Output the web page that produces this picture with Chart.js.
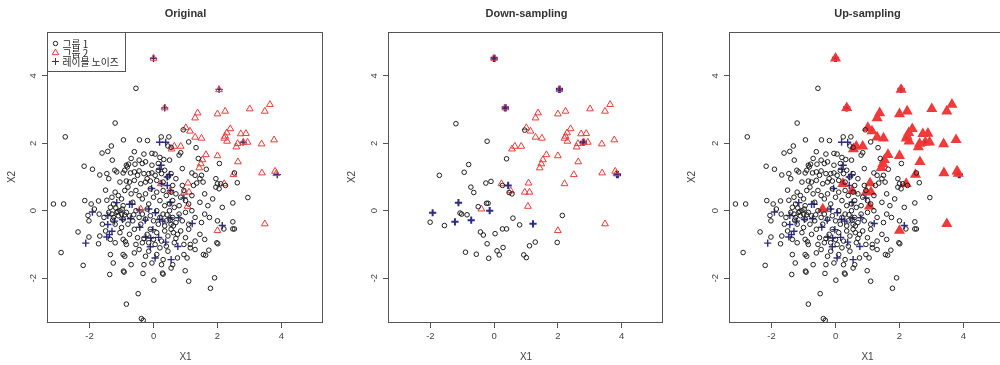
<!DOCTYPE html>
<html>
<head>
<meta charset="utf-8">
<script src="https://cdn.jsdelivr.net/npm/chart.js@4.4.0/dist/chart.umd.min.js"></script>
<style>
html, body { margin: 0; padding: 0; background: #fff; overflow: hidden; width: 1000px; height: 365px; }
.p { position: absolute; top: 0; width: 340px; height: 365px; }
</style>
</head>
<body>
<div class="p" style="left:0"><canvas id="c1" width="340" height="365"></canvas></div>
<div class="p" style="left:340px"><canvas id="c2" width="340" height="365"></canvas></div>
<div class="p" style="left:680px"><canvas id="c3" width="340" height="365"></canvas></div>
<script>
var titles = ["Original", "Down-sampling", "Up-sampling"]
var legendLabels = ["그룹 1", "그룹 2", "레이블 노이즈"]
var xTicks = [-2, 0, 2, 4]
var yTicks = [-2, 0, 2, 4]

// 그룹 1 (original / up-sampling)
var group1 = [
  [-0.55,3.63],[-1.2,2.6],[-2.76,2.19],[-3.13,0.2],[-2.81,0.2],
  [-0.94,2.1],[-0.44,2.1],[-0.19,2.08],[0.24,2.19],[0.48,2.19],[0.93,2.4],[1.1,2.04],[-1.32,1.92],[0.45,1.92],[0.55,1.88],
  [-1.61,1.71],[-1.43,1.76],[-0.6,1.75],[-0.7,1.55],[-0.3,1.68],[-0.05,1.7],[0.05,1.68],[-0.25,1.45],[-0.45,1.5],[-0.35,1.4],
  [-0.78,1.38],[-0.82,1.3],[0.85,1.72],[0.8,1.65],[0.5,1.5],[0.2,1.58],[0.32,1.52],[1.33,1.87],[1.4,1.55],[2.06,1.4],
  [-1.29,1.5],[-2.17,1.32],[-0.58,1.38],[0.15,1.4],[-0.05,1.35],
  [-1.91,1.23],[-1.46,1.1],[-1.68,1.06],[-1.21,1.2],[-1.15,1.15],[-0.95,1.12],[-0.9,1.2],[-0.72,1.12],[-0.6,1.15],[-0.45,1.18],
  [-0.3,1.1],[-0.15,1.1],[-0.05,1.12],[0.25,1.1],[0.35,1.2],[0.45,1.0],[0.55,1.1],[0.9,1.25],[1.2,1.12],[1.3,1.05],
  [1.5,1.05],[1.65,1.23],[1.45,0.95],[1.55,0.85],[1.95,0.95],[2.0,0.8],[2.1,0.8],[2.53,1.12],[2.62,0.83],[-1.4,0.95],
  [-1.05,0.85],[-0.85,0.88],[-0.75,0.85],[-0.6,0.9],[-0.4,0.8],[-0.25,0.85],[-0.1,0.88],[0.1,0.9],[0.3,0.85],[0.6,0.75],
  [0.9,0.75],[1.25,0.75],[1.35,0.82],[-0.85,1.35],[-0.5,1.05],[0.05,1.05],[-0.2,0.95],[0.7,0.95],[0.15,1.2],
  [-1.5,0.61],[-1.72,0.29],[-1.46,0.31],[-1.2,0.55],[-1.1,0.45],[-1.3,0.4],[-1.0,0.35],[-0.9,0.6],[-0.8,0.7],[-0.7,0.5],
  [-0.55,0.6],[-0.45,0.45],[-0.35,0.35],[-0.25,0.5],[-0.1,0.65],[0.0,0.4],[0.1,0.55],[0.2,0.3],[0.3,0.6],[0.4,0.45],
  [0.5,0.2],[0.6,0.3],[0.7,0.5],[0.85,0.4],[1.0,0.3],[1.1,0.2],[1.2,0.45],[1.45,0.25],[1.6,0.5],[1.85,0.35],
  [1.95,0.7],[2.05,0.65],[2.25,0.75],[2.48,0.23],[2.95,0.39],[-2.15,0.3],[-1.95,0.2],[-0.65,0.25],[-0.15,0.2],[0.35,0.15],
  [0.8,0.15],[1.7,0.15],[-1.25,0.2],[-0.95,0.15],[0.55,0.55],[0.95,0.6],
  [-2.05,-0.14],[-2.02,-0.3],[-1.85,0.05],[-1.7,-0.1],[-1.55,-0.2],[-1.4,-0.05],[-1.3,-0.1],[-1.25,-0.2],[-1.15,-0.05],[-1.1,-0.15],
  [-1.05,0.0],[-1.0,-0.1],[-0.95,-0.25],[-0.85,-0.05],[-0.75,-0.15],[-0.65,-0.3],[-0.55,0.0],[-0.45,-0.2],[-0.35,-0.1],[-0.2,0.05],
  [-0.1,-0.15],[0.0,-0.3],[0.1,0.0],[0.2,-0.2],[0.3,-0.1],[0.4,-0.3],[0.5,0.0],[0.6,-0.2],[0.7,-0.35],[0.8,-0.1],
  [0.9,-0.3],[1.0,-0.05],[1.1,-0.4],[1.3,-0.2],[1.5,-0.35],[1.6,-0.1],[1.75,-0.2],[2.0,-0.3],[2.15,0.1],[2.48,-0.33],
  [-1.6,-0.4],[-1.2,-0.4],[-0.8,-0.4],[-0.4,-0.4],[0.15,-0.4],[0.55,-0.4],[-1.35,0.1],[-0.25,-0.25],[0.65,0.1],[1.2,0.0],
  [-1.12,-0.02],[-1.18,0.08],[-0.98,0.05],[-0.9,-0.12],[-1.28,-0.28],[-0.62,-0.12],[0.42,-0.12],[0.52,-0.28],[0.62,-0.45],[0.35,-0.45],
  [-2.36,-0.63],[-2.02,-0.78],[-1.72,-0.98],[-1.68,-0.75],[-1.5,-0.6],[-1.35,-0.85],[-1.2,-0.95],[-1.05,-0.65],[-0.95,-0.85],[-0.85,-1.0],
  [-0.75,-0.7],[-0.6,-0.55],[-0.5,-0.8],[-0.35,-0.95],[-0.2,-0.7],[-0.1,-0.55],[0.0,-0.85],[0.1,-0.65],[0.25,-0.9],[0.35,-0.6],
  [0.45,-0.75],[0.55,-0.55],[0.65,-0.95],[0.75,-0.7],[0.85,-0.6],[1.0,-0.8],[1.1,-0.55],[1.3,-0.9],[1.45,-0.7],[1.6,-0.85],
  [2.2,-0.54],[2.48,-0.54],[2.53,-0.54],[1.98,-0.95],[2.01,-0.98],[1.15,-1.0],[-0.55,-1.0],[0.95,-1.0],[0.4,-1.05],[-1.0,-0.5],
  [-0.88,-0.92],[-0.3,-0.82],[0.05,-1.0],[0.62,-0.65],[0.7,-0.82],[-0.15,-0.95],
  [-2.89,-1.24],[-2.2,-1.62],[-1.35,-1.3],[-1.26,-1.55],[-0.95,-1.3],[-0.9,-1.35],[-0.6,-1.25],[-0.45,-1.15],[-0.3,-1.6],[-0.15,-1.2],
  [-0.05,-1.55],[0.1,-1.3],[0.3,-1.45],[0.45,-1.2],[0.6,-1.6],[0.75,-1.4],[0.95,-1.3],[1.05,-1.4],[1.15,-1.1],[1.3,-1.15],
  [1.56,-1.3],[1.63,-1.32],[1.73,-1.17],[-0.7,-1.6],[0.2,-1.1],[-0.25,-1.35],[0.55,-1.7],[0.25,-1.6],
  [-1.37,-1.89],[-0.94,-1.79],[-0.92,-1.82],[-0.33,-1.86],[0.01,-2.06],[0.99,-1.78],[1.1,-2.09],[1.91,-1.99],[1.78,-2.3],
  [-0.48,-2.46],[-0.85,-2.77],[-0.38,-3.2],[-0.32,-3.25],[0.28,-1.85],[0.3,-1.88]
]

// 그룹 1 after down-sampling
var group1Down = [
  [-1.2,2.58],[-0.22,2.06],[0.96,2.39],[0.39,1.54],[-0.8,1.37],[-0.94,1.14],[-1.72,1.05],[-0.1,0.87],[-0.26,0.82],[-0.73,0.7],
  [-0.64,0.54],[0.26,0.75],[0.47,0.54],[0.56,0.5],[-0.24,0.22],[-0.19,0.22],[-0.5,0.12],[-1.07,-0.07],[-1.02,-0.1],[-0.85,-0.12],
  [-2.01,-0.34],[-1.56,-0.44],[2.14,-0.14],[0.59,-0.22],[0.8,-0.42],[0.26,-0.54],[0.39,-0.54],[-0.43,-0.63],[-0.34,-0.72],[0.03,-0.68],
  [-0.22,-0.98],[-0.9,-1.23],[-0.56,-1.29],[-0.17,-1.41],[0.09,-1.19],[0.16,-1.31],[0.28,-1.09],[0.93,-1.31],[1.01,-1.39],[1.11,-1.04],
  [1.29,-0.93],[1.98,-0.94]
]

// 그룹 2
var group2 = [
  [0,4.52],[2.05,3.59],[0.35,3.05],[1.38,2.9],[1.3,2.75],[2.0,2.87],[2.24,2.95],[3.01,3.02],[3.64,3.15],[3.48,2.95],
  [1.01,2.46],[1.14,2.36],[2.4,2.43],[2.29,2.31],[2.24,2.21],[2.73,2.28],[2.89,2.29],[1.3,2.18],[1.5,2.15],[2.21,2.15],
  [2.3,2.06],[2.63,1.99],[2.94,2.03],[2.81,2.03],[3.38,1.98],[3.77,2.1],[2.59,1.89],[0.85,1.91],[0.65,1.91],[0.56,1.83],
  [1.64,1.66],[2.0,1.63],[1.53,1.51],[1.48,1.39],[1.43,1.27],[2.64,1.45],[2.5,1.07],[3.39,1.12],[3.8,1.17],[3.84,1.1],
  [1.08,0.82],[2.21,0.8],[0.23,0.8],[0.52,0.59],[0.96,0.55],[1.11,0.55],[1.06,0.13],[-0.4,0.05],[2.0,-0.59],[3.48,-0.39]
]

// 레이블 노이즈 (first five sit on 그룹 2 points)
var noise = [
  [0,4.52],[2.05,3.6],[0.35,3.05],[2.8,2.03],[3.87,1.07],
  [0.19,2.03],[0.38,2.03],[0.24,1.35],[0.2,1.23],[0.43,1.0],[0.5,1.07],[0.25,0.8],[0.43,0.75],[-0.06,0.66],[0.53,0.6],
  [0.52,0.25],[0.95,0.38],[-0.44,0.02],[-0.15,0.05],[0.06,-0.06],[-0.75,0.19],[-0.67,0.19],[-1.15,0.24],[-1.91,-0.04],[-1.43,-0.14],
  [-1.22,-0.31],[-0.97,-0.26],[-0.72,-0.24],[-0.26,-0.28],[0.19,-0.26],[0.29,-0.31],[0.52,-0.21],[0.79,-0.21],[1.21,-0.38],[2.15,-0.44],
  [-0.43,-0.49],[-0.02,-0.56],[-1.43,-0.41],[-1.3,-0.61],[-1.38,-0.71],[-1.46,-0.78],[-2.12,-0.96],[-0.24,-0.79],[-0.09,-0.81],[0.16,-0.79],
  [0.38,-0.93],[0.76,-1.06],[-0.1,-1.07],[0.05,-1.4],[0.55,-1.45]
]
var noiseDown = [
  [0,4.52],[2.05,3.6],[0.35,3.05],[2.8,2.03],[3.87,1.07],[0.44,0.75],[-1.12,0.24],[-1.93,-0.06],[-0.14,0.0],[-0.72,-0.28],
  [-1.23,-0.33],[1.22,-0.39]
]
var noiseOnGroup2 = 5

function pts(list) { return list.map(function (p) { return { x: p[0], y: p[1] } }) }

var BLACK = '#1e1e1e', RED = '#f03a3a', NAVY = '#2c2c84'

function circles(list) {
  return { data: pts(list), pointStyle: 'circle', pointRadius: 2.3, pointBorderWidth: 1,
           pointBorderColor: BLACK, pointBackgroundColor: 'rgba(0,0,0,0)' }
}
function triangles(list, heavy) {
  return { data: pts(list), pointStyle: 'triangle', pointRadius: heavy ? 4.4 : 3.9,
           pointBorderWidth: heavy ? 2 : 1, pointBorderColor: RED,
           pointBackgroundColor: heavy ? 'rgba(240,40,40,0.9)' : 'rgba(0,0,0,0)' }
}
function crosses(list, heavy) {
  return { data: pts(list), pointStyle: 'cross', pointRadius: 3.6, pointBorderColor: NAVY,
           pointBorderWidth: function (c) { return heavy && c.dataIndex < noiseOnGroup2 ? 3 : (heavy === 'all' ? 2 : 1.4) } }
}

var framePlugin = {
  id: 'frame',
  afterDraw: function (chart, args, opts) {
    var ctx = chart.ctx, a = chart.chartArea
    ctx.save()
    ctx.strokeStyle = '#555'
    ctx.lineWidth = 1
    ctx.strokeRect(Math.round(a.left) - 0.5, Math.round(a.top) + 0.5, Math.round(a.right - a.left), Math.round(a.bottom - a.top))
    ctx.fillStyle = '#333'
    ctx.font = 'bold 11px "Liberation Sans", Arial, sans-serif'
    ctx.textAlign = 'center'
    ctx.textBaseline = 'middle'
    ctx.fillText(opts.title, (a.left + 275 / 2), 14)
    if (opts.legend) {
      var lx = Math.round(a.left) - 0.5, ly = Math.round(a.top) + 0.5
      ctx.strokeRect(lx, ly, 78, 39)
      ctx.font = '9.8px "Noto Sans CJK KR", sans-serif'
      ctx.textAlign = 'left'
      var colors = [BLACK, RED, NAVY]
      for (var i = 0; i < 3; i++) {
        var cy = ly + 11 + i * 9, cx = lx + 8
        ctx.strokeStyle = colors[i]
        ctx.lineWidth = 1
        ctx.beginPath()
        if (i === 0) ctx.arc(cx, cy, 2.2, 0, Math.PI * 2)
        if (i === 1) { ctx.moveTo(cx, cy - 3.4); ctx.lineTo(cx + 3.3, cy + 2.2); ctx.lineTo(cx - 3.3, cy + 2.2); ctx.closePath() }
        if (i === 2) { ctx.moveTo(cx - 3.5, cy); ctx.lineTo(cx + 3.5, cy); ctx.moveTo(cx, cy - 3.5); ctx.lineTo(cx, cy + 3.5) }
        ctx.stroke()
        ctx.fillStyle = '#2a2a2a'
        ctx.fillText(legendLabels[i], lx + 15, cy + 0.5)
      }
    }
    ctx.restore()
  }
}

function makePanel(id, datasets, title, axisW, padR, legend) {
  return new Chart(document.getElementById(id), {
    type: 'scatter',
    data: { datasets: datasets },
    plugins: [framePlugin],
    options: {
      responsive: false,
      animation: false,
      layout: { padding: { left: 0, right: padR, top: 32, bottom: 0 } },
      plugins: { legend: { display: false }, tooltip: { enabled: false }, frame: { title: title, legend: legend } },
      scales: {
        x: {
          type: 'linear', min: -3.3, max: 5.3,
          afterBuildTicks: function (s) { s.ticks = xTicks.map(function (v) { return { value: v } }) },
          afterFit: function (s) { s.height = 43 },
          grid: { drawOnChartArea: false, tickLength: 6, color: '#555' },
          border: { display: false },
          ticks: { color: '#444', font: { size: 9.5, family: '"Liberation Sans", Arial' }, padding: 3, maxRotation: 0 },
          title: { display: true, text: 'X1', color: '#444', font: { size: 10, family: '"Liberation Sans", Arial' }, padding: { top: 0, bottom: 2 } }
        },
        y: {
          type: 'linear', min: -3.3, max: 5.3,
          afterBuildTicks: function (s) { s.ticks = yTicks.map(function (v) { return { value: v } }) },
          afterFit: function (s) { s.width = axisW },
          grid: { drawOnChartArea: false, tickLength: 6, color: '#555' },
          border: { display: false },
          ticks: { color: '#444', font: { size: 9.5, family: '"Liberation Sans", Arial' }, padding: 4, minRotation: 90, maxRotation: 90, crossAlign: 'center' },
          title: { display: true, text: 'X2', color: '#444', font: { size: 10, family: '"Liberation Sans", Arial' }, padding: { top: 6, bottom: 0 } }
        }
      }
    }
  })
}

makePanel('c1', [circles(group1), triangles(group2, false), crosses(noise, false)], titles[0], 48, 17, true)
makePanel('c2', [circles(group1Down), triangles(group2, false), crosses(noiseDown, 'all')], titles[1], 49, 17, false)
makePanel('c3', [circles(group1), triangles(group2, true), crosses(noise, true)], titles[2], 50, 15, false)
</script>
</body>
</html>
